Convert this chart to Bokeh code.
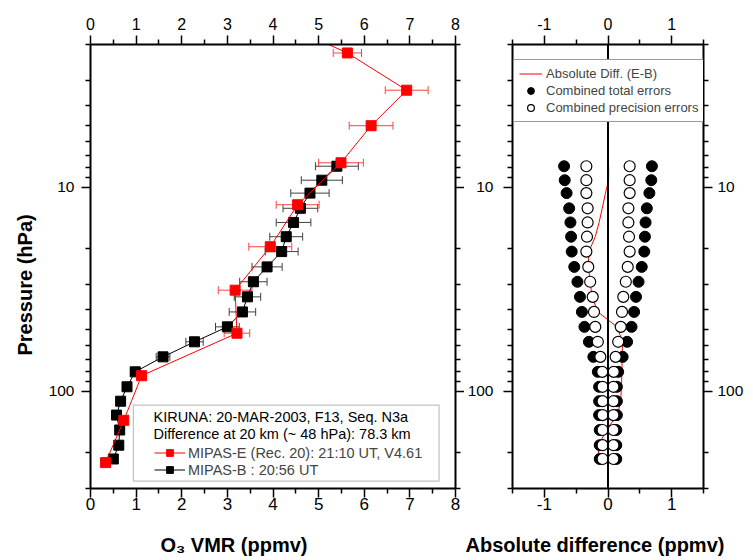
from bokeh.plotting import figure
from bokeh.models import (Range1d, LinearAxis, LogAxis, FixedTicker, Whisker, TeeHead,
                          ColumnDataSource, Legend, LegendItem, Label, BoxAnnotation, Span,
                          Title, PrintfTickFormatter, CustomJSTickFormatter)
from bokeh.layouts import row
from bokeh.embed import file_html
from bokeh.resources import INLINE

FONT = "Liberation Sans"

# ---------------- data ----------------
# MIPAS-E (Rec. 20): pressure (hPa), O3 VMR (ppmv), error (ppmv)
e_pres = [1.6, 2.2, 3.35, 5.0, 7.6, 12.2, 19.6, 32.0, 52.0, 84.0, 139.0, 224.0]
e_vmr = [4.25, 5.63, 6.93, 6.15, 5.49, 4.54, 3.94, 3.17, 3.21, 1.12, 0.73, 0.33]
e_err = [0.30, 0.31, 0.47, 0.48, 0.49, 0.47, 0.47, 0.37, 0.28, 0.08, 0.05, 0.05]

# MIPAS-B: pressure (hPa), O3 VMR (ppmv), error (ppmv)
b_pres = [7.9, 9.25, 10.7, 12.7, 14.9, 17.5, 20.7, 24.6, 29.1, 34.5, 40.9, 48.4,
          57.3, 67.9, 80.4, 95.2, 112.0, 131.0, 155.0, 184.0, 215.0]
b_vmr = [5.40, 5.07, 4.81, 4.60, 4.45, 4.29, 4.19, 3.87, 3.57, 3.44, 3.33, 3.00,
         2.28, 1.59, 0.98, 0.80, 0.66, 0.57, 0.64, 0.62, 0.50]
b_err = [0.47, 0.45, 0.42, 0.38, 0.38, 0.36, 0.36, 0.33, 0.30, 0.29, 0.29, 0.26,
         0.19, 0.15, 0.10, 0.06, 0.05, 0.05, 0.05, 0.05, 0.05]

# Right panel (at MIPAS-B levels)
abs_diff = [0.01, 0.01, -0.04, -0.09, -0.14, -0.20, -0.30, -0.31, -0.28, -0.25, -0.16,
            0.14, 0.23, 0.22, 0.22, 0.21, 0.20, 0.15, -0.03, -0.14, -0.16]
tot_err = [0.69, 0.68, 0.65, 0.61, 0.59, 0.58, 0.57, 0.53, 0.48, 0.44, 0.41, 0.37,
           0.30, 0.23, 0.16, 0.14, 0.14, 0.14, 0.13, 0.13, 0.13]
prec_err = [0.34, 0.34, 0.34, 0.32, 0.32, 0.33, 0.34, 0.31, 0.28, 0.24, 0.22, 0.20,
            0.16, 0.12, 0.09, 0.085, 0.085, 0.085, 0.085, 0.085, 0.085]

# ticks
y_major = [10, 100]
y_minor = [2, 3, 4, 5, 6, 7, 8, 9, 20, 30, 40, 50, 60, 70, 80, 90, 200, 300]
vmr_major = [0, 1, 2, 3, 4, 5, 6, 7, 8]
vmr_minor = [0.5, 1.5, 2.5, 3.5, 4.5, 5.5, 6.5, 7.5]
diff_major = [-1, 0, 1]
diff_minor = [-1.5, -0.5, 0.5, 1.5]

P_BOTTOM, P_TOP = 300, 2

header_lines = ["KIRUNA: 20-MAR-2003, F13, Seq. N3a",
                "Difference at 20 km (~ 48 hPa): 78.3 km"]

H = 560


def style_axis(ax, standoff, size):
    ax.axis_line_color = "black"
    ax.axis_line_width = 2
    ax.major_tick_line_color = "black"
    ax.minor_tick_line_color = "black"
    ax.major_tick_line_width = 1.5
    ax.minor_tick_line_width = 1.5
    ax.major_tick_in = 0
    ax.minor_tick_in = 0
    ax.major_tick_out = 9
    ax.minor_tick_out = 5
    ax.major_label_text_font = FONT
    ax.major_label_text_font_size = size
    ax.major_label_text_color = "black"
    ax.major_label_standoff = standoff


def make_fig(width, x_range, min_left, min_right):
    p = figure(width=width, height=H, x_range=x_range,
               y_range=Range1d(P_BOTTOM, P_TOP), y_axis_type="log",
               x_axis_location=None, y_axis_location=None,
               output_backend="svg", toolbar_location=None,
               min_border_left=min_left, min_border_right=min_right,
               min_border_top=44, min_border_bottom=72)
    p.outline_line_color = None
    p.xgrid.visible = False
    p.ygrid.visible = False
    p.background_fill_color = "white"
    p.border_fill_color = "white"
    return p


def add_x_axes(p, major, minor):
    for loc, so, sz in (("below", 0, "17px"), ("above", 6, "16px")):
        ax = LinearAxis(ticker=FixedTicker(ticks=major, minor_ticks=minor),
                        formatter=PrintfTickFormatter(format="%d"))
        style_axis(ax, so, sz)
        if loc == "below":
            # tiny spacer label pushes the axis title further down
            ax.axis_label = " "
            ax.axis_label_text_font_size = "1px"
            ax.axis_label_standoff = 15
        p.add_layout(ax, loc)


def add_y_axis(p, loc, standoff, labelled):
    fmt = PrintfTickFormatter(format="%d") if labelled else CustomJSTickFormatter(code="return ''")
    ax = LogAxis(ticker=FixedTicker(ticks=y_major, minor_ticks=y_minor), formatter=fmt)
    style_axis(ax, standoff if labelled else 0, "15.5px")
    p.add_layout(ax, loc)


def axis_title(text, offset, standoff):
    return Title(text=text, align="left", offset=offset, standoff=standoff,
                 text_font=FONT, text_font_size="20px", text_font_style="bold",
                 text_color="black")


# ---------------- left panel ----------------
p1 = make_fig(464, Range1d(0, 8), 90, 9)
add_x_axes(p1, vmr_major, vmr_minor)
add_y_axis(p1, "left", 7, True)
add_y_axis(p1, "right", 0, False)

src_b = ColumnDataSource(dict(p=b_pres, x=b_vmr))
src_e = ColumnDataSource(dict(p=e_pres, x=e_vmr))


def whisk_source(pres, vals, errs):
    idx = [i for i, pr in enumerate(pres) if P_TOP <= pr <= P_BOTTOM]
    return ColumnDataSource(dict(p=[pres[i] for i in idx],
                                 lo=[vals[i] - errs[i] for i in idx],
                                 hi=[vals[i] + errs[i] for i in idx]))


def add_whisker(p, src, color):
    w = Whisker(source=src, base="p", lower="lo", upper="hi", dimension="width",
                line_color=color, line_width=1, level="underlay",
                upper_head=TeeHead(size=8, line_color=color, line_width=1),
                lower_head=TeeHead(size=8, line_color=color, line_width=1))
    p.add_layout(w)


add_whisker(p1, whisk_source(b_pres, b_vmr, b_err), "#404040")
add_whisker(p1, whisk_source(e_pres, e_vmr, e_err), "#ff4040")

bl = p1.line("x", "p", source=src_b, line_color="black", line_width=1)
bs = p1.scatter("x", "p", source=src_b, marker="square", size=10,
                fill_color="black", line_color="black")
el = p1.line("x", "p", source=src_e, line_color="red", line_width=1)
es = p1.scatter("x", "p", source=src_e, marker="square", size=10,
                fill_color="red", line_color="red")

p1.add_layout(BoxAnnotation(left=0.94, right=7.64, top=117, bottom=276,
                            fill_alpha=0, line_color="#333333", line_width=1.2))
for txt, yv in zip(header_lines, [134, 163]):
    p1.add_layout(Label(x=1.38, y=yv, text=txt, text_baseline="middle", text_align="left",
                        text_font=FONT, text_font_size="14.5px", text_color="black"))

leg1 = Legend(items=[LegendItem(label="MIPAS-E (Rec. 20): 21:10 UT, V4.61", renderers=[el, es]),
                     LegendItem(label="MIPAS-B : 20:56 UT", renderers=[bl, bs])],
              location=(64, 10), padding=0, spacing=0, margin=0,
              glyph_width=31, glyph_height=17, label_height=17, label_standoff=3,
              border_line_color=None, background_fill_alpha=0,
              label_text_font=FONT, label_text_font_size="14.5px")
p1.add_layout(leg1)

p1.add_layout(axis_title("Pressure (hPa)", 133, 20), "left")
p1.add_layout(axis_title("O\u2083 VMR (ppmv)", 70, 1), "below")

# ---------------- right panel ----------------
p2 = make_fig(289, Range1d(-1.5, 1.5), 48, 50)
add_x_axes(p2, diff_major, diff_minor)
add_y_axis(p2, "left", 10, True)
add_y_axis(p2, "right", 5, True)

src_d = ColumnDataSource(dict(p=b_pres, d=abs_diff,
                              tn=[-v for v in tot_err], tp=tot_err,
                              pn=[-v for v in prec_err], pp=prec_err))
dl = p2.line("d", "p", source=src_d, line_color="red", line_width=1)
t1 = p2.scatter("tn", "p", source=src_d, size=11, fill_color="black", line_color="black")
p2.scatter("tp", "p", source=src_d, size=11, fill_color="black", line_color="black")
o1 = p2.scatter("pn", "p", source=src_d, size=11, fill_color="white", line_color="black",
                line_width=1.2)
p2.scatter("pp", "p", source=src_d, size=11, fill_color="white", line_color="black",
           line_width=1.2)
p2.add_layout(Span(location=0, dimension="height", line_color="black", line_width=2))

leg2 = Legend(items=[LegendItem(label="Absolute Diff. (E-B)", renderers=[dl]),
                     LegendItem(label="Combined total errors", renderers=[t1]),
                     LegendItem(label="Combined precision errors", renderers=[o1])],
              location=(1, 366), padding=5, spacing=0, margin=0,
              glyph_width=23, glyph_height=17, label_height=17, label_standoff=4,
              border_line_color="#333333", border_line_width=1,
              background_fill_color="white", background_fill_alpha=1,
              label_text_font=FONT, label_text_font_size="13px")
p2.add_layout(leg2)

p2.add_layout(axis_title("Absolute difference (ppmv)", -47, 1), "below")

layout = row(p1, p2)
open("out.html", "w").write(file_html(layout, INLINE))
